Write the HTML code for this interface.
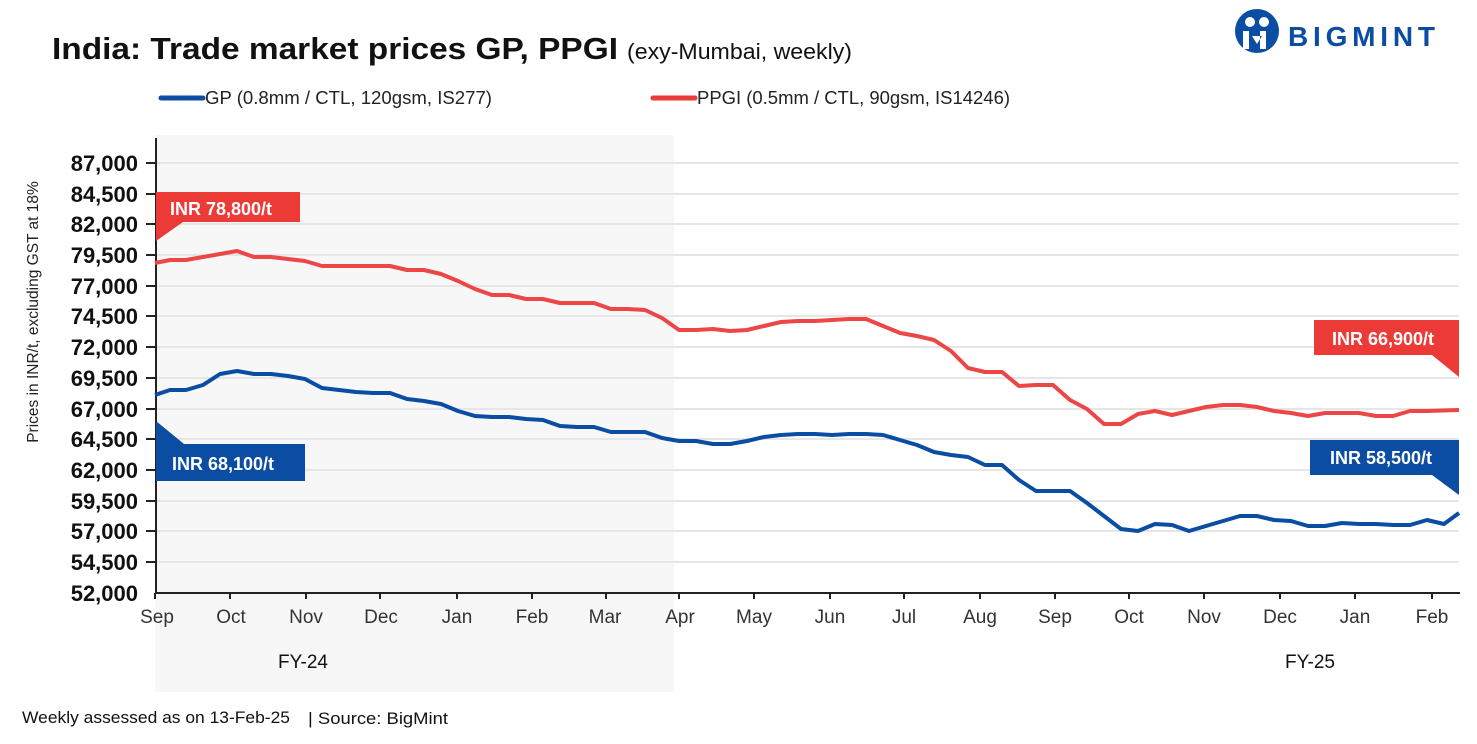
<!DOCTYPE html>
<html><head><meta charset="utf-8"><style>
body{margin:0;background:#fff;width:1477px;height:739px;overflow:hidden;font-family:"Liberation Sans",sans-serif;}
</style></head><body>
<svg width="1477" height="739" viewBox="0 0 1477 739" xmlns="http://www.w3.org/2000/svg" font-family="Liberation Sans, sans-serif">
<rect x="155" y="135" width="519" height="557" fill="#f7f7f7"/>
<g stroke="#e6e6e6" stroke-width="2">
<line x1="156" x2="1459" y1="163" y2="163"/><line x1="156" x2="1459" y1="194" y2="194"/><line x1="156" x2="1459" y1="224" y2="224"/><line x1="156" x2="1459" y1="255" y2="255"/><line x1="156" x2="1459" y1="286" y2="286"/><line x1="156" x2="1459" y1="316" y2="316"/><line x1="156" x2="1459" y1="347" y2="347"/><line x1="156" x2="1459" y1="378" y2="378"/><line x1="156" x2="1459" y1="409" y2="409"/><line x1="156" x2="1459" y1="439" y2="439"/><line x1="156" x2="1459" y1="470" y2="470"/><line x1="156" x2="1459" y1="501" y2="501"/><line x1="156" x2="1459" y1="531" y2="531"/><line x1="156" x2="1459" y1="562" y2="562"/>
</g>
<g font-size="22" font-weight="bold" fill="#111" text-anchor="end">
<text x="138" y="171">87,000</text><text x="138" y="202">84,500</text><text x="138" y="232">82,000</text><text x="138" y="263">79,500</text><text x="138" y="294">77,000</text><text x="138" y="324">74,500</text><text x="138" y="355">72,000</text><text x="138" y="386">69,500</text><text x="138" y="417">67,000</text><text x="138" y="447">64,500</text><text x="138" y="478">62,000</text><text x="138" y="509">59,500</text><text x="138" y="539">57,000</text><text x="138" y="570">54,500</text><text x="138" y="601">52,000</text>
</g>
<g stroke="#222" stroke-width="2">
<line x1="156" y1="138" x2="156" y2="594"/><line x1="155" y1="593" x2="1460" y2="593"/>
<line x1="146" x2="156" y1="163" y2="163"/><line x1="146" x2="156" y1="194" y2="194"/><line x1="146" x2="156" y1="224" y2="224"/><line x1="146" x2="156" y1="255" y2="255"/><line x1="146" x2="156" y1="286" y2="286"/><line x1="146" x2="156" y1="316" y2="316"/><line x1="146" x2="156" y1="347" y2="347"/><line x1="146" x2="156" y1="378" y2="378"/><line x1="146" x2="156" y1="409" y2="409"/><line x1="146" x2="156" y1="439" y2="439"/><line x1="146" x2="156" y1="470" y2="470"/><line x1="146" x2="156" y1="501" y2="501"/><line x1="146" x2="156" y1="531" y2="531"/><line x1="146" x2="156" y1="562" y2="562"/>
<line x1="155" x2="155" y1="593" y2="599"/><line x1="230" x2="230" y1="593" y2="599"/><line x1="306" x2="306" y1="593" y2="599"/><line x1="380" x2="380" y1="593" y2="599"/><line x1="457" x2="457" y1="593" y2="599"/><line x1="532" x2="532" y1="593" y2="599"/><line x1="606" x2="606" y1="593" y2="599"/><line x1="679" x2="679" y1="593" y2="599"/><line x1="754" x2="754" y1="593" y2="599"/><line x1="830" x2="830" y1="593" y2="599"/><line x1="904" x2="904" y1="593" y2="599"/><line x1="980" x2="980" y1="593" y2="599"/><line x1="1055" x2="1055" y1="593" y2="599"/><line x1="1129" x2="1129" y1="593" y2="599"/><line x1="1204" x2="1204" y1="593" y2="599"/><line x1="1280" x2="1280" y1="593" y2="599"/><line x1="1355" x2="1355" y1="593" y2="599"/><line x1="1432" x2="1432" y1="593" y2="599"/>
</g>
<g font-size="19" fill="#333" text-anchor="middle">
<text x="157" y="623">Sep</text><text x="231" y="623">Oct</text><text x="306" y="623">Nov</text><text x="381" y="623">Dec</text><text x="457" y="623">Jan</text><text x="532" y="623">Feb</text><text x="605" y="623">Mar</text><text x="680" y="623">Apr</text><text x="754" y="623">May</text><text x="830" y="623">Jun</text><text x="904" y="623">Jul</text><text x="980" y="623">Aug</text><text x="1055" y="623">Sep</text><text x="1129" y="623">Oct</text><text x="1204" y="623">Nov</text><text x="1280" y="623">Dec</text><text x="1355" y="623">Jan</text><text x="1432" y="623">Feb</text>
<text x="303" y="668" fill="#111">FY-24</text><text x="1310" y="668" fill="#111">FY-25</text>
</g>
<text transform="translate(38,312) rotate(-90)" font-size="15.5" fill="#222" text-anchor="middle">Prices in INR/t, excluding GST at 18%</text>
<polyline fill="none" stroke="#ec4646" stroke-width="4" stroke-linejoin="round" points="155,263 170,260 186,260 203,257 220,254 237,251 254,257 271,257 288,259 305,261 322,266 339,266 356,266 373,266 390,266 407,270 424,270 441,274 458,281 475,289 492,295 509,295 526,299 543,299 560,303 577,303 594,303 611,309 628,309 645,310 662,318 679,330 696,330 713,329 730,331 747,330 764,326 781,322 798,321 815,321 832,320 849,319 866,319 883,326 900,333 917,336 934,340 951,351 968,368 985,372 1002,372 1019,386 1036,385 1053,385 1070,400 1087,409 1104,424 1121,424 1138,414 1155,411 1172,415 1189,411 1206,407 1223,405 1240,405 1257,407 1274,411 1291,413 1308,416 1325,413 1342,413 1359,413 1376,416 1393,416 1410,411 1427,411 1459,410"/>
<polyline fill="none" stroke="#0a4da2" stroke-width="4" stroke-linejoin="round" points="155,395 170,390 186,390 203,385 220,374 237,371 254,374 271,374 288,376 305,379 322,388 339,390 356,392 373,393 390,393 407,399 424,401 441,404 458,411 475,416 492,417 509,417 526,419 543,420 560,426 577,427 594,427 611,432 628,432 645,432 662,438 679,441 696,441 713,444 730,444 747,441 764,437 781,435 798,434 815,434 832,435 849,434 866,434 883,435 900,440 917,445 934,452 951,455 968,457 985,465 1002,465 1019,480 1036,491 1053,491 1070,491 1087,503 1104,516 1121,529 1138,531 1155,524 1172,525 1189,531 1206,526 1223,521 1240,516 1257,516 1274,520 1291,521 1308,526 1325,526 1342,523 1359,524 1376,524 1393,525 1410,525 1427,520 1444,524 1459,513"/>
<polygon fill="#ec3a37" points="156,192 300,192 300,222 183,222 156,241"/>
<text x="170" y="215" font-size="18" font-weight="bold" fill="#fff">INR 78,800/t</text>
<polygon fill="#0a4da2" points="156,421 184,444 305,444 305,481 156,481"/>
<text x="172" y="470" font-size="18" font-weight="bold" fill="#fff">INR 68,100/t</text>
<polygon fill="#ec3a37" points="1314,320 1459,320 1459,377 1432,355 1314,355"/>
<text x="1332" y="345" font-size="18" font-weight="bold" fill="#fff">INR 66,900/t</text>
<polygon fill="#0a4da2" points="1310,440 1459,440 1459,495 1432,475 1310,475"/>
<text x="1330" y="464" font-size="18" font-weight="bold" fill="#fff">INR 58,500/t</text>
<text x="52" y="59" font-size="31" font-weight="bold" fill="#111" textLength="566" lengthAdjust="spacingAndGlyphs">India: Trade market prices GP, PPGI</text>
<text x="627" y="59" font-size="22" fill="#111" textLength="225" lengthAdjust="spacingAndGlyphs">(exy-Mumbai, weekly)</text>
<line x1="161" y1="98" x2="203" y2="98" stroke="#0a4da2" stroke-width="5" stroke-linecap="round"/>
<text x="205" y="104" font-size="18" fill="#222" textLength="287" lengthAdjust="spacingAndGlyphs">GP (0.8mm / CTL, 120gsm, IS277)</text>
<line x1="653" y1="98" x2="695" y2="98" stroke="#ec3a37" stroke-width="5" stroke-linecap="round"/>
<text x="697" y="104" font-size="18" fill="#222" textLength="313" lengthAdjust="spacingAndGlyphs">PPGI (0.5mm / CTL, 90gsm, IS14246)</text>
<text x="22" y="723" font-size="17" fill="#111" textLength="268" lengthAdjust="spacingAndGlyphs">Weekly assessed as on 13-Feb-25</text>
<text x="308" y="724" font-size="17" fill="#111" textLength="140" lengthAdjust="spacingAndGlyphs">| Source: BigMint</text>
<g fill="#0a4da2">
<circle cx="1257" cy="31" r="22"/>
<circle cx="1250" cy="22" r="5" fill="#fff"/><circle cx="1264" cy="22" r="5" fill="#fff"/>
<path d="M1243 31 h6 v18 h-6z M1260 31 h6 v18 h-6z M1252 36 l5 8 l5 -8z" fill="#fff"/>
<text x="1288" y="46" font-size="28" font-weight="bold" textLength="147" lengthAdjust="spacing">BIGMINT</text>
</g>
</svg>
</body></html>
